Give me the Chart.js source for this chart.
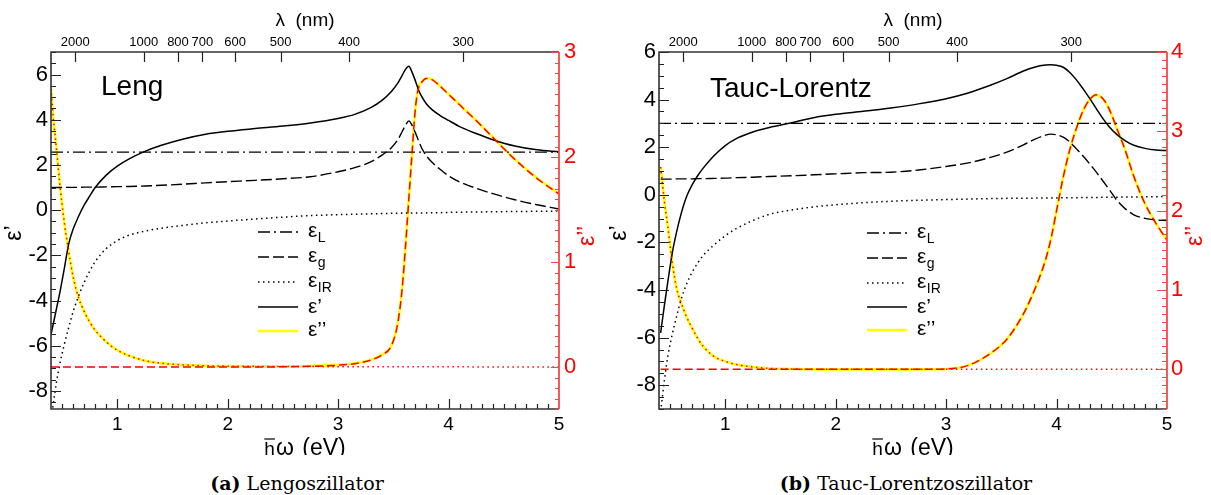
<!DOCTYPE html>
<html><head><meta charset="utf-8">
<script src="https://cdn.jsdelivr.net/npm/chart.js@4.4.0/dist/chart.umd.min.js"></script>
<style>
html,body{margin:0;padding:0;background:#fff;width:1211px;height:495px;overflow:hidden;}
.panel{position:absolute;top:0;height:455px;}
#p1{left:0;width:605px;} #p2{left:605px;width:606px;}
.cap{position:absolute;top:473px;font-family:"DejaVu Serif",serif;font-size:19px;line-height:20px;white-space:nowrap;transform:translateX(-50%);color:#000;}
</style></head><body>
<div class="panel" id="p1"><canvas id="c1" width="605" height="455"></canvas></div>
<div class="panel" id="p2"><canvas id="c2" width="606" height="455"></canvas></div>
<div class="cap" style="left:297px"><b>(a)</b> Lengoszillator</div>
<div class="cap" style="left:906px"><b>(b)</b> Tauc-Lorentzoszillator</div>
<script>
// ---------- data ----------
const energyTicks = [1, 2, 3, 4, 5];
const lambdaTicks = [2000, 1000, 800, 700, 600, 500, 400, 300];

// Leng oscillator panel
const lengE = [0.40,0.42,0.45,0.48,0.52,0.56,0.60,0.65,0.70,0.75,0.80,0.90,1.00,1.10,1.25,1.40,1.60,1.80,2.00,2.25,2.50,2.75,3.00,3.15,3.30,3.40,3.48,3.54,3.58,3.61,3.64,3.67,3.70,3.73,3.76,3.80,3.85,3.92,4.00,4.10,4.25,4.40,4.60,4.80,5.00];
const lengEps1 = [-5.5,-5.05,-4.35,-3.65,-2.6,-1.5,-0.85,-0.27,0.22,0.62,1.0,1.55,1.95,2.25,2.6,2.87,3.15,3.36,3.49,3.61,3.72,3.86,4.06,4.24,4.55,4.87,5.24,5.62,5.97,6.23,6.37,6.1,5.72,5.3,5.0,4.7,4.45,4.2,3.97,3.70,3.39,3.12,2.84,2.67,2.58];
const lengEpsG = [1.00,1.00,1.00,1.00,1.01,1.01,1.01,1.01,1.02,1.02,1.02,1.03,1.04,1.05,1.07,1.10,1.15,1.21,1.26,1.32,1.39,1.48,1.70,1.88,2.15,2.45,2.75,3.12,3.48,3.75,3.95,3.75,3.42,3.05,2.72,2.40,2.12,1.82,1.52,1.25,0.97,0.73,0.46,0.24,0.05];
const lengEpsIR = [-9.4,-8.6,-7.6,-6.8,-5.95,-5.2,-4.5,-3.8,-3.2,-2.7,-2.28,-1.7,-1.35,-1.12,-0.93,-0.8,-0.67,-0.56,-0.48,-0.39,-0.31,-0.24,-0.2,-0.18,-0.16,-0.15,-0.14,-0.14,-0.13,-0.13,-0.13,-0.13,-0.12,-0.12,-0.12,-0.12,-0.11,-0.11,-0.10,-0.09,-0.08,-0.07,-0.06,-0.05,-0.04];
const lengEpsL = 2.57;
const lengEps2 = [2.65,2.38,2.07,1.74,1.38,1.10,0.86,0.66,0.53,0.43,0.35,0.24,0.16,0.11,0.06,0.035,0.02,0.012,0.008,0.006,0.006,0.01,0.02,0.035,0.07,0.12,0.2,0.42,0.75,1.15,1.6,2.05,2.47,2.67,2.72,2.75,2.74,2.68,2.60,2.50,2.35,2.19,1.98,1.80,1.65];
const lengEps2G = [0,0,0,0,0,0,0,0,0,0,0,0,0,0,0,0,0,0,0,0,0.002,0.006,0.017,0.032,0.067,0.117,0.197,0.417,0.747,1.147,1.597,2.047,2.467,2.667,2.717,2.747,2.737,2.677,2.597,2.497,2.347,2.187,1.977,1.797,1.647];
const lengEps2IR = [2.65,2.38,2.07,1.74,1.38,1.10,0.86,0.66,0.53,0.43,0.35,0.24,0.16,0.11,0.06,0.035,0.02,0.012,0.008,0.006,0.004,0.004,0.003,0.003,0.003,0.003,0.003,0.002,0.002,0.002,0.002,0.002,0.002,0.002,0.002,0.002,0.002,0.002,0.002,0.002,0.001,0.001,0.001,0.001,0.001];
const lengEps1Ticks = [-8,-6,-4,-2,0,2,4,6];
const lengEps2Ticks = [0,1,2,3];

// Tauc-Lorentz oscillator panel
const tlE = [0.415,0.45,0.48,0.52,0.56,0.60,0.65,0.70,0.75,0.80,0.90,1.00,1.10,1.25,1.40,1.60,1.80,2.00,2.25,2.50,2.75,3.00,3.20,3.40,3.55,3.70,3.80,3.90,3.95,4.00,4.06,4.12,4.18,4.24,4.30,4.36,4.42,4.48,4.55,4.62,4.70,4.80,4.90,5.00];
const tlEps1 = [-5.8,-4.6,-3.65,-2.45,-1.55,-0.8,-0.07,0.42,0.8,1.12,1.65,2.07,2.36,2.64,2.83,3.03,3.24,3.38,3.51,3.65,3.82,4.04,4.28,4.6,4.88,5.2,5.36,5.45,5.46,5.44,5.36,5.14,4.83,4.45,4.05,3.62,3.2,2.84,2.52,2.28,2.08,1.95,1.88,1.86];
const tlEpsG = [0.66,0.66,0.66,0.66,0.67,0.67,0.67,0.67,0.68,0.68,0.69,0.70,0.72,0.74,0.77,0.80,0.84,0.88,0.93,0.95,1.04,1.19,1.34,1.57,1.79,2.10,2.33,2.51,2.55,2.52,2.42,2.22,1.93,1.63,1.30,0.95,0.58,0.2,-0.25,-0.58,-0.84,-0.99,-1.06,-1.08];
const tlEpsIR = [-9.1,-7.75,-6.78,-5.86,-5.1,-4.4,-3.75,-3.25,-2.87,-2.55,-2.1,-1.72,-1.42,-1.08,-0.82,-0.64,-0.51,-0.42,-0.33,-0.27,-0.23,-0.2,-0.18,-0.16,-0.15,-0.145,-0.14,-0.13,-0.13,-0.13,-0.12,-0.12,-0.12,-0.11,-0.11,-0.11,-0.10,-0.10,-0.10,-0.09,-0.09,-0.08,-0.08,-0.07];
const tlEpsL = 3.0;
const tlEps2 = [2.55,2.1,1.8,1.35,1.02,0.84,0.66,0.52,0.39,0.29,0.16,0.10,0.06,0.03,0.012,0.005,0,0,0,0,0,0.005,0.05,0.2,0.38,0.7,1.0,1.38,1.65,2.0,2.42,2.77,3.04,3.26,3.4,3.46,3.41,3.27,3.02,2.77,2.43,2.09,1.84,1.63];
const tlEps2G = [0,0,0,0,0,0,0,0,0,0,0,0,0,0,0,0,0,0,0,0,0,0.005,0.05,0.2,0.38,0.7,1.0,1.38,1.65,2.0,2.42,2.77,3.04,3.26,3.4,3.46,3.41,3.27,3.02,2.77,2.43,2.09,1.84,1.63];
const tlEps2IR = [2.55,2.1,1.8,1.35,1.02,0.84,0.66,0.52,0.39,0.29,0.16,0.10,0.06,0.03,0.012,0.005,0,0,0,0,0,0,0,0,0,0,0,0,0,0,0,0,0,0,0,0,0,0,0,0,0,0,0,0];
const tlEps1Ticks = [-8,-6,-4,-2,0,2,4,6];
const tlEps2Ticks = [0,1,2,3,4];

// ---------- rendering ----------
const FONT = '"Liberation Sans", Arial, Helvetica, sans-serif';
const HC = 1239.84; // eV*nm
const xy = (E, arr) => E.map((e, i) => ({x: e, y: arr[i]}));

function makePanel(p) {
  const styles = {
    L:  {borderColor:'#000', borderWidth:1.4, borderDash:[12,4,2,4]},
    G:  {borderColor:'#000', borderWidth:1.4, borderDash:[11,4]},
    IR: {borderColor:'#000', borderWidth:1.5, borderDash:[1.5,3.5]},
    E1: {borderColor:'#000', borderWidth:1.5, borderDash:[]},
    E2: {borderColor:'#ffff00', borderWidth:2.6, borderDash:[]}
  };
  const base = {pointRadius:0, pointHoverRadius:0, fill:false, cubicInterpolationMode:'monotone', xAxisID:'x'};
  const datasets = [
    Object.assign({}, base, styles.E2, {label:'eps2', data: xy(p.E, p.eps2), yAxisID:'y2', order:10}),
    Object.assign({}, base, {label:'eps2g', data: xy(p.E, p.eps2g), yAxisID:'y2', borderColor:'#ff0000', borderWidth:1.5, borderDash:[8,4], order:2}),
    Object.assign({}, base, {label:'eps2ir', data: xy(p.E, p.eps2ir), yAxisID:'y2', borderColor:'#ff0000', borderWidth:1.5, borderDash:[1.5,3.5], order:1}),
    Object.assign({}, base, styles.L, {label:'epsL', data:[{x:p.xMin,y:p.epsL},{x:p.xMax,y:p.epsL}], yAxisID:'y', order:3}),
    Object.assign({}, base, styles.G, {label:'epsG', data: xy(p.E, p.epsG), yAxisID:'y', order:3}),
    Object.assign({}, base, styles.IR, {label:'epsIR', data: xy(p.E, p.epsIR), yAxisID:'y', order:3}),
    Object.assign({}, base, styles.E1, {label:'eps1', data: xy(p.E, p.eps1), yAxisID:'y', order:3})
  ];
  const setTicks = vals => (axis) => { axis.ticks = vals.map(v => ({value: v})); };
  const deco = {
    id: 'deco',
    afterDraw(chart) {
      const ctx = chart.ctx, a = chart.chartArea;
      const sx = chart.scales.x, sy = chart.scales.y, sy2 = chart.scales.y2;
      ctx.save();
      // black tick marks (inside)
      ctx.strokeStyle = '#222'; ctx.lineWidth = 1.2; ctx.setLineDash([]);
      ctx.beginPath();
      for (let k = Math.ceil(p.xMin*10 + 1e-9); k <= Math.floor(p.xMax*10 - 1e-9); k++) {
        const x = Math.round(sx.getPixelForValue(k/10)) + 0.5, len = (k % 10 === 0) ? 10 : 5;
        ctx.moveTo(x, a.bottom); ctx.lineTo(x, a.bottom - len);
      }
      for (let k = Math.ceil(p.yMin*2); k <= Math.floor(p.yMax*2); k++) {
        const y = Math.round(sy.getPixelForValue(k/2)) + 0.5, len = (k % 4 === 0) ? 10 : 5;
        ctx.moveTo(a.left, y); ctx.lineTo(a.left + len, y);
      }
      lambdaTicks.forEach(l => {
        const x = Math.round(sx.getPixelForValue(HC / l)) + 0.5;
        ctx.moveTo(x, a.top); ctx.lineTo(x, a.top + 10);
      });
      ctx.stroke();
      // frame: top, left, bottom
      ctx.lineWidth = 1.6; ctx.strokeStyle = '#333';
      ctx.beginPath();
      ctx.moveTo(a.right, a.top); ctx.lineTo(a.left, a.top); ctx.lineTo(a.left, a.bottom); ctx.lineTo(a.right, a.bottom);
      ctx.stroke();
      // red right axis
      ctx.strokeStyle = '#f24a4a'; ctx.lineWidth = 1.2;
      ctx.beginPath();
      for (let k = Math.ceil(p.y2Min*10 - 1e-9); k <= Math.floor(p.y2Max*10 + 1e-9); k++) {
        const y = Math.round(sy2.getPixelForValue(k/10)) + 0.5, len = (k % 10 === 0) ? p.redMajor : p.redMajor/2;
        ctx.moveTo(a.right, y); ctx.lineTo(a.right - len, y);
      }
      ctx.stroke();
      ctx.lineWidth = 1.8;
      ctx.beginPath(); ctx.moveTo(a.right, a.top); ctx.lineTo(a.right, a.bottom); ctx.stroke();

      // vertical axis titles
      const vText = (txt, x, y, color, font) => {
        ctx.save(); ctx.translate(x, y); ctx.rotate(-Math.PI/2);
        ctx.fillStyle = color; ctx.font = font; ctx.textAlign = 'center'; ctx.textBaseline = 'middle';
        ctx.fillText(txt, 0, 0); ctx.restore();
      };
      vText('ε’', p.t1x, p.t1y, '#000', '23px ' + FONT);
      vText('ε’’', p.t2x, p.t2y, '#ff0000', '23px ' + FONT);

      // top title
      ctx.fillStyle = '#000'; ctx.textBaseline = 'middle'; ctx.textAlign = 'center';
      ctx.font = '19px ' + FONT;
      ctx.fillText('λ  (nm)', (a.left + a.right)/2, p.topTitleY);

      // bottom title  (h-bar omega)
      ctx.textAlign = 'left';
      const fH = '19px ' + FONT, fO = '23px ' + FONT;
      ctx.font = fH; const wH = ctx.measureText('h').width;
      ctx.font = fO; const wO = ctx.measureText('ω').width, wR = ctx.measureText(' (eV)').width;
      let x0 = (a.left + a.right)/2 - (wH + 1 + wO + 2 + wR)/2;
      const by = p.botTitleY;
      ctx.textBaseline = 'alphabetic';
      ctx.font = fH; ctx.fillText('h', x0, by);
      ctx.strokeStyle = '#000'; ctx.lineWidth = 1.2;
      ctx.beginPath(); ctx.moveTo(x0, by - 16); ctx.lineTo(x0 + wH, by - 16); ctx.stroke();
      ctx.font = fO; ctx.fillText('ω', x0 + wH + 1, by);
      ctx.fillText(' (eV)', x0 + wH + 1 + wO + 2, by);

      // panel label
      ctx.font = '28px ' + FONT; ctx.fillText(p.name, p.nameX, p.nameY);

      // legend
      const entries = [
        {st: styles.L, sub: 'L'}, {st: styles.G, sub: 'g'}, {st: styles.IR, sub: 'IR'},
        {st: styles.E1, txt: 'ε’'}, {st: styles.E2, txt: 'ε’’'}
      ];
      entries.forEach((en, i) => {
        const y = p.legRows[i];
        ctx.save();
        ctx.strokeStyle = en.st.borderColor; ctx.lineWidth = en.st.borderWidth; ctx.setLineDash(en.st.borderDash);
        ctx.beginPath(); ctx.moveTo(p.legX0, y); ctx.lineTo(p.legX1, y); ctx.stroke();
        ctx.restore();
        ctx.fillStyle = '#000'; ctx.textAlign = 'left'; ctx.textBaseline = 'alphabetic';
        ctx.font = '21px ' + FONT;
        if (en.sub) {
          ctx.fillText('ε', p.legTX, y + 5);
          const w = ctx.measureText('ε').width;
          ctx.font = '14px ' + FONT;
          ctx.fillText(en.sub, p.legTX + w + 0.5, y + 10);
        } else {
          ctx.fillText(en.txt, p.legTX, y + 5 + (i === 3 ? 1 : 0));
        }
      });
      ctx.restore();
    }
  };

  return new Chart(document.getElementById(p.canvas), {
    type: 'line',
    data: {datasets},
    options: {
      responsive: false, animation: false, devicePixelRatio: 1, events: [],
      layout: {padding: 0},
      plugins: {legend: {display: false}, tooltip: {enabled: false}},
      scales: {
        x: {type:'linear', position:'bottom', min:p.xMin, max:p.xMax,
            grid:{display:false, drawTicks:false}, border:{display:false},
            ticks:{autoSkip:false, maxRotation:0, padding:4, color:'#000', font:{family:FONT, size:19}},
            afterBuildTicks: setTicks(energyTicks),
            afterFit: s => { s.height = p.H - p.bottom; }},
        x2: {type:'linear', position:'top', min:p.xMin, max:p.xMax,
            grid:{display:false, drawTicks:false}, border:{display:false},
            ticks:{autoSkip:false, maxRotation:0, padding:2, color:'#000', font:{family:FONT, size:13},
                   callback: (v, i) => String(lambdaTicks[i])},
            afterBuildTicks: setTicks(lambdaTicks.map(l => HC / l)),
            afterFit: s => { s.height = p.top; }},
        y: {type:'linear', position:'left', min:p.yMin, max:p.yMax,
            grid:{display:false, drawTicks:false}, border:{display:false},
            ticks:{autoSkip:false, padding:3, color:'#000', font:{family:FONT, size:22}},
            afterBuildTicks: setTicks(p.yTicks),
            afterFit: s => { s.width = p.left; }},
        y2: {type:'linear', position:'right', min:p.y2Min, max:p.y2Max,
            grid:{display:false, drawTicks:false}, border:{display:false},
            ticks:{autoSkip:false, padding:p.y2Pad, color:'#ff0000', font:{family:FONT, size:22}},
            afterBuildTicks: setTicks(p.y2Ticks),
            afterFit: s => { s.width = p.W - p.right; }}
      }
    },
    plugins: [deco]
  });
}

makePanel({
  canvas:'c1', W:605, H:455, left:51, right:559, top:52, bottom:409,
  xMin:0.4, xMax:5, yMin:-8.8, yMax:7, y2Min:-0.4, y2Max:3, y2Pad:5, redMajor:8,
  E:lengE, eps1:lengEps1, epsG:lengEpsG, epsIR:lengEpsIR, epsL:lengEpsL,
  eps2:lengEps2, eps2g:lengEps2G, eps2ir:lengEps2IR,
  yTicks:lengEps1Ticks, y2Ticks:lengEps2Ticks,
  name:'Leng', nameX:101, nameY:95,
  t1x:15, t1y:233, t2x:588, t2y:236, topTitleY:21, botTitleY:455,
  legX0:258, legX1:298, legTX:308, legRows:[232,257,282,307,331]
});
makePanel({
  canvas:'c2', W:606, H:455, left:54, right:562, top:52, bottom:409,
  xMin:0.4, xMax:5, yMin:-9, yMax:6, y2Min:-0.5, y2Max:4, y2Pad:4, redMajor:10,
  E:tlE, eps1:tlEps1, epsG:tlEpsG, epsIR:tlEpsIR, epsL:tlEpsL,
  eps2:tlEps2, eps2g:tlEps2G, eps2ir:tlEps2IR,
  yTicks:tlEps1Ticks, y2Ticks:tlEps2Ticks,
  name:'Tauc-Lorentz', nameX:105, nameY:96.5,
  t1x:15, t1y:233, t2x:591, t2y:236, topTitleY:21, botTitleY:455,
  legX0:262, legX1:302, legTX:312, legRows:[233,258,283,307,330]
});
</script>
</body></html>
